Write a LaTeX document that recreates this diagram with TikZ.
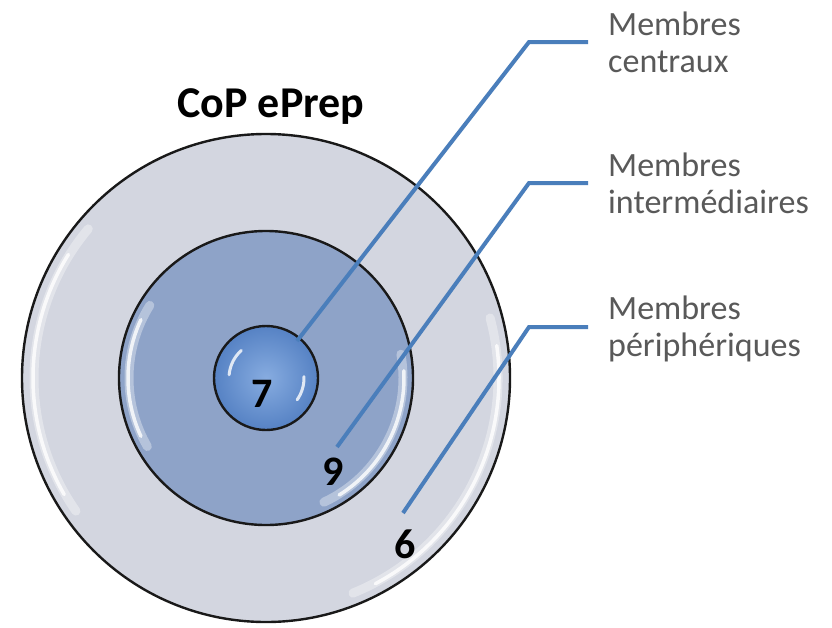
\documentclass[tikz,border=0pt]{standalone}
\usepackage{fontspec}
\setmainfont{Carlito}
\usetikzlibrary{calc}
\definecolor{outerfill}{RGB}{211,214,224}
\definecolor{midfill}{RGB}{142,163,200}
\definecolor{innerA}{RGB}{135,172,224}
\definecolor{innerB}{RGB}{86,130,196}
\definecolor{leaderblue}{RGB}{74,126,187}
\definecolor{labgray}{RGB}{89,89,89}
\tikzset{
  ring/.style={circle, draw=black!90, line width=2.4pt, inner sep=0pt},
  glosswide/.style={white, line width=9pt, opacity=0.35, line cap=round},
  gloss/.style={white, line width=3.5pt, opacity=0.8, line cap=round},
  leader/.style={draw=leaderblue, line width=4pt},
  lab/.style={font=\fontsize{34}{37}\selectfont, text=labgray, align=left, anchor=west, inner sep=0pt},
  num/.style={font=\fontsize{42}{44}\selectfont\bfseries, anchor=base, inner sep=0pt},
}
\begin{document}
\begin{tikzpicture}[x=1pt,y=-1pt]
\useasboundingbox (0,0) rectangle (832,627);
\fill[white] (0,0) rectangle (832,627);

% rings
\node[ring, fill=outerfill, minimum size=488pt] (outer) at (266,378) {};
\draw[glosswide] (266,378) ++(145:232) arc[start angle=145, end angle=220, radius=232];
\draw[gloss] (266,378) ++(150:233) arc[start angle=150, end angle=212, radius=233];
\draw[glosswide] (266,378) ++(-15:232) arc[start angle=-15, end angle=68, radius=232];
\draw[gloss] (266,378) ++(-8:233) arc[start angle=-8, end angle=62, radius=233];

\node[ring, fill=midfill, minimum size=294pt] (mid) at (266,378) {};
\draw[glosswide] (266,378) ++(150:137) arc[start angle=150, end angle=212, radius=137];
\draw[gloss] (266,378) ++(155:138) arc[start angle=155, end angle=205, radius=138];
\draw[glosswide] (266,378) ++(-10:137) arc[start angle=-10, end angle=65, radius=137];
\draw[gloss] (266,378) ++(-3:138) arc[start angle=-3, end angle=58, radius=138];

\node[ring, shade, inner color=innerA, outer color=innerB, minimum size=104pt] (inner) at (266,378) {};
\draw[gloss, line width=3pt] (266,378) ++(185:37) arc[start angle=185, end angle=228, radius=37];
\draw[gloss, line width=3pt] (266,378) ++(-2:38) arc[start angle=-2, end angle=35, radius=38];

% title and numbers
\node[font=\fontsize{44}{48}\selectfont\bfseries, anchor=base, inner sep=0pt] (title) at (271,117) {CoP ePrep};
\node[num] (n7) at (262,407) {7};
\node[num] (n9) at (333,485) {9};
\node[num] (n6) at (405,558) {6};

% labels
\node[lab] (lab1) at (608,42) {Membres\\centraux};
\node[lab] (lab2) at (608,183) {Membres\\intermédiaires};
\node[lab] (lab3) at (608,329) {Membres\\périphériques};

% leader lines
\coordinate (k1) at (529,42);
\coordinate (k2) at (529,183);
\coordinate (k3) at (529,327);
\coordinate (e1) at (297,341);
\coordinate (e2) at (337,447);
\coordinate (e3) at (403,513);
\draw[leader] (e1) -- (k1) -- ($(k1 -| lab1.west)+(-20,0)$);
\draw[leader] (e2) -- (k2) -- ($(k2 -| lab2.west)+(-20,0)$);
\draw[leader] (e3) -- (k3) -- ($(k3 -| lab3.west)+(-20,0)$);
\end{tikzpicture}
\end{document}
